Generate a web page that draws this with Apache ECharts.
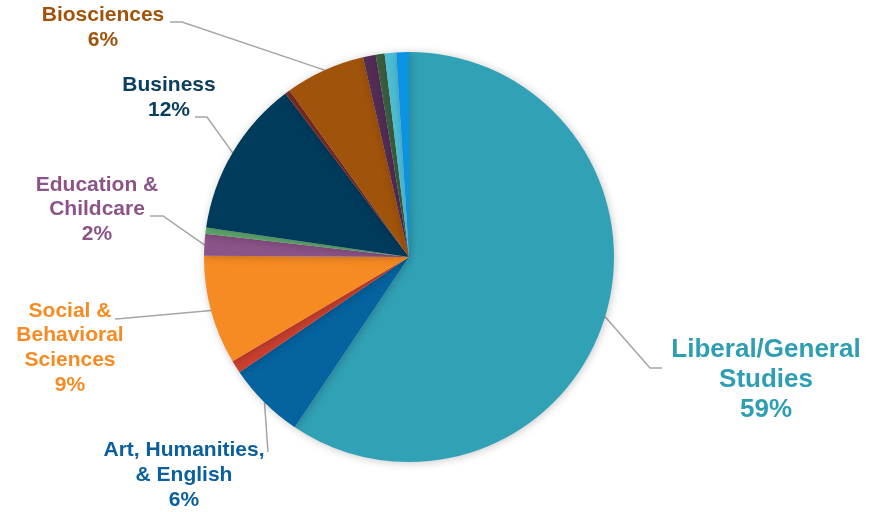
<!DOCTYPE html>
<html>
<head>
<meta charset="utf-8">
<script src="https://cdn.jsdelivr.net/npm/echarts@6/dist/echarts.min.js"></script>
<style>html,body{margin:0;padding:0;background:#fff;}#c{width:878px;height:512px;}</style>
</head>
<body>
<div id="c"></div>
<script>
// Slices, clockwise from 12 o'clock
const categories = [
  'Liberal/General Studies', 'Art, Humanities, & English', 'Other A', 'Social & Behavioral Sciences',
  'Education & Childcare', 'Other B', 'Business', 'Other C', 'Biosciences',
  'Other D', 'Other E', 'Other F', 'Other G'
];
const values = [59.4, 6.1, 1.0, 8.6, 1.7, 0.5, 12.4, 0.4, 6.3, 1.0, 0.7, 0.9, 1.0];
const labelTexts = {
  'Liberal/General Studies': ['Liberal/General', 'Studies'],
  'Art, Humanities, & English': ['Art, Humanities,', '& English'],
  'Social & Behavioral Sciences': ['Social &', 'Behavioral', 'Sciences'],
  'Education & Childcare': ['Education &', 'Childcare'],
  'Business': ['Business'],
  'Biosciences': ['Biosciences']
};
const colors = ['#31A1B5', '#0563A0', '#CB3F2E', '#F68B23', '#8B5387', '#5EA86C', '#003B5C',
  '#7B2B23', '#A0530A', '#532C55', '#3B5E3F', '#4DBDD4', '#0A93E3'];
const textColors = {
  'Liberal/General Studies': '#2E9FB3',
  'Art, Humanities, & English': '#0A5FA0',
  'Social & Behavioral Sciences': '#F68B23',
  'Education & Childcare': '#8B5387',
  'Business': '#0B3F60',
  'Biosciences': '#A0530A'
};
// label layout (positions only)
const layout = {
  'Liberal/General Studies': {x: 766, y: 380, fs: 26, lh: 30, pts: [[650, 368], [662, 368]]},
  'Art, Humanities, & English': {x: 184, y: 475, fs: 21, lh: 25, pts: [[268, 452], [268, 452]]},
  'Social & Behavioral Sciences': {x: 70, y: 348, fs: 21, lh: 24.7, pts: [[122, 318.6], [115, 319]]},
  'Education & Childcare': {x: 97, y: 209.5, fs: 21, lh: 24.5, pts: [[163, 216], [150, 216]]},
  'Business': {x: 169, y: 97.5, fs: 21, lh: 25, pts: [[207, 117], [195, 117]]},
  'Biosciences': {x: 103, y: 27.5, fs: 21, lh: 25, pts: [[182, 22], [170, 22]]}
};

const total = values.reduce((a, b) => a + b, 0);
const data = categories.map((name, i) => {
  const lab = labelTexts[name];
  const item = {name: name, value: values[i], itemStyle: {color: colors[i]}};
  if (lab) {
    const L = layout[name];
    item.label = {
      show: true,
      formatter: () => lab.concat([Math.round(values[i] / total * 100) + '%']).join('\n'),
      color: textColors[name],
      fontSize: L.fs,
      lineHeight: L.lh,
      fontWeight: 'bold',
      fontFamily: 'Liberation Sans, Arial, sans-serif',
      align: 'center'
    };
    item.labelLine = {show: true};
  } else {
    item.label = {show: false};
    item.labelLine = {show: false};
  }
  return item;
});

const chart = echarts.init(document.getElementById('c'), null, {renderer: 'canvas'});
chart.setOption({
  animation: false,
  backgroundColor: '#fff',
  series: [{
    type: 'pie',
    center: [409, 257],
    radius: [0, 205],
    startAngle: 90,
    clockwise: true,
    avoidLabelOverlap: false,
    itemStyle: {borderWidth: 0, shadowBlur: 8, shadowColor: 'rgba(0,0,0,0.22)', shadowOffsetX: 1, shadowOffsetY: 1},
    emphasis: {disabled: true},
    labelLine: {length: 10, length2: 10, lineStyle: {color: '#A6A6A6', width: 1.5}},
    label: {position: 'outer', alignTo: 'none'},
    labelLayout: function (params) {
      const name = categories[params.dataIndex];
      const L = layout[name];
      if (!L) return {};
      const start = params.labelLinePoints ? params.labelLinePoints[0] : L.pts[0];
      return {
        x: L.x,
        y: L.y,
        align: 'center',
        verticalAlign: 'middle',
        labelLinePoints: [start, L.pts[0], L.pts[1]]
      };
    },
    data: data
  }]
});
</script>
</body>
</html>
